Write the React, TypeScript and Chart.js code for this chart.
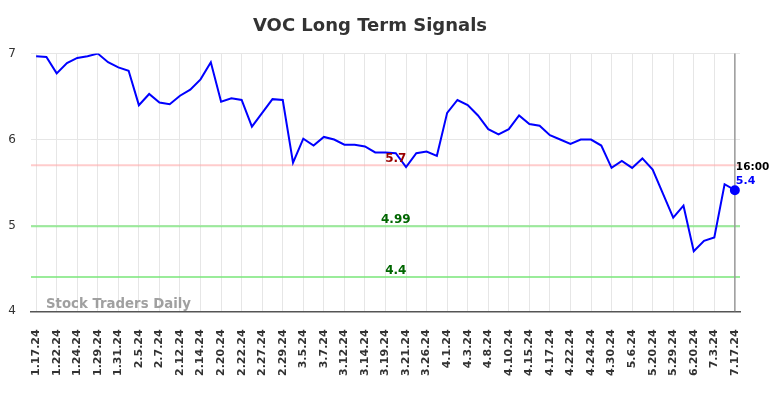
import React, { useEffect, useRef } from "react";
import { Chart, registerables } from "chart.js";

Chart.register(...registerables);

const dates: string[] = [
  "1.17.24", "1.18.24", "1.22.24", "1.23.24", "1.24.24", "1.26.24", "1.29.24", "1.30.24",
  "1.31.24", "2.2.24", "2.5.24", "2.6.24", "2.7.24", "2.9.24", "2.12.24", "2.13.24",
  "2.14.24", "2.16.24", "2.20.24", "2.21.24", "2.22.24", "2.26.24", "2.27.24", "2.28.24",
  "2.29.24", "3.1.24", "3.5.24", "3.6.24", "3.7.24", "3.11.24", "3.12.24", "3.13.24",
  "3.14.24", "3.18.24", "3.19.24", "3.20.24", "3.21.24", "3.25.24", "3.26.24", "3.28.24",
  "4.1.24", "4.2.24", "4.3.24", "4.5.24", "4.8.24", "4.9.24", "4.10.24", "4.12.24",
  "4.15.24", "4.16.24", "4.17.24", "4.19.24", "4.22.24", "4.23.24", "4.24.24", "4.26.24",
  "4.30.24", "5.2.24", "5.6.24", "5.13.24", "5.20.24", "5.24.24", "5.29.24", "6.7.24",
  "6.20.24", "6.27.24", "7.3.24", "7.10.24", "7.17.24",
];

const prices: number[] = [
  6.97, 6.96, 6.77, 6.89, 6.95, 6.97, 7.0, 6.9, 6.84, 6.8,
  6.4, 6.53, 6.43, 6.41, 6.51, 6.58, 6.7, 6.9, 6.44, 6.48,
  6.46, 6.15, 6.31, 6.47, 6.46, 5.73, 6.01, 5.93, 6.03, 6.0,
  5.94, 5.94, 5.92, 5.85, 5.85, 5.84, 5.68, 5.84, 5.86, 5.81,
  6.31, 6.46, 6.4, 6.28, 6.12, 6.06, 6.12, 6.28, 6.18, 6.16,
  6.05, 6.0, 5.95, 6.0, 6.0, 5.93, 5.67, 5.75, 5.67, 5.78,
  5.65, 5.37, 5.09, 5.23, 4.7, 4.82, 4.86, 5.48, 5.41,
];

const signalValues: number[] = [5.7, 4.99, 4.4];
const signalLabels: string[] = ["5.7", "4.99", "4.4"];
const signalLineColors: string[] = ["rgba(255,170,170,0.6)", "rgba(120,230,120,0.75)", "rgba(120,230,120,0.75)"];
const signalTextColors: string[] = ["#990000", "#006600", "#006600"];

const lastTimeLabel = "16:00";
const lastPriceLabel = "5.4";
const watermark = "Stock Traders Daily";
const FONT = "'DejaVu Sans', sans-serif";

const overlayPlugin = {
  id: "overlay",
  beforeDatasetsDraw(chart: any) {
    const { ctx, chartArea, scales } = chart;
    const y = scales.y;
    const x = scales.x;
    ctx.save();
    signalValues.forEach((v, i) => {
      const py = y.getPixelForValue(v);
      ctx.strokeStyle = signalLineColors[i];
      ctx.lineWidth = 2;
      ctx.beginPath();
      ctx.moveTo(chartArea.left, py);
      ctx.lineTo(chartArea.right, py);
      ctx.stroke();
    });
    const lx = x.getPixelForValue(prices.length - 1);
    ctx.strokeStyle = "#999999";
    ctx.lineWidth = 1.5;
    ctx.beginPath();
    ctx.moveTo(lx, chartArea.top);
    ctx.lineTo(lx, chartArea.bottom);
    ctx.stroke();
    ctx.font = `bold 13.3px ${FONT}`;
    ctx.fillStyle = "rgba(150,150,150,0.9)";
    ctx.textAlign = "left";
    ctx.textBaseline = "alphabetic";
    ctx.fillText(watermark, chartArea.left + 15, chartArea.bottom - 3);
    ctx.restore();
  },
  afterDatasetsDraw(chart: any) {
    const { ctx, scales } = chart;
    const y = scales.y;
    const x = scales.x;
    ctx.save();
    const cx = x.getPixelForValue(35);
    ctx.font = `bold 12px ${FONT}`;
    ctx.textAlign = "center";
    ctx.textBaseline = "alphabetic";
    signalValues.forEach((v, i) => {
      const py = y.getPixelForValue(v);
      ctx.fillStyle = signalTextColors[i];
      ctx.fillText(signalLabels[i], cx, py - 3);
    });
    const li = prices.length - 1;
    const lx = x.getPixelForValue(li);
    const ly = y.getPixelForValue(prices[li]);
    ctx.textAlign = "left";
    ctx.font = `bold 10.5px ${FONT}`;
    ctx.fillStyle = "#000000";
    ctx.fillText(lastTimeLabel, lx + 1, ly - 20);
    ctx.font = `bold 11px ${FONT}`;
    ctx.fillStyle = "#0000ff";
    ctx.fillText(lastPriceLabel, lx + 1, ly - 6);
    ctx.restore();
  },
};

export default function App() {
  const ref = useRef<HTMLCanvasElement | null>(null);
  useEffect(() => {
    document.body.style.margin = "0";
    const canvas = ref.current;
    if (!canvas) return;
    const chart = new Chart(canvas, {
      type: "line",
      data: {
        labels: dates,
        datasets: [
          {
            data: prices,
            borderColor: "#0000ff",
            backgroundColor: "#0000ff",
            borderWidth: 2,
            tension: 0,
            pointRadius: prices.map((_, i) => (i === prices.length - 1 ? 4 : 0)),
            pointHoverRadius: 4,
            fill: false,
          },
        ],
      },
      options: {
        responsive: false,
        animation: false,
        events: [],
        layout: { padding: { left: 0, right: 44, top: 0, bottom: 4 } },
        plugins: {
          legend: { display: false },
          tooltip: { enabled: false },
          title: {
            display: true,
            text: "VOC Long Term Signals",
            color: "#333333",
            font: { family: FONT, size: 18, weight: "bold" },
            padding: { top: 16, bottom: 16 },
          },
        },
        scales: {
          x: {
            offset: true,
            grid: {
              color: "#e6e6e6",
              lineWidth: 1,
              drawTicks: false,
            },
            border: { display: true, color: "#555555", width: 1.5 },
            ticks: {
              autoSkip: false,
              maxRotation: 90,
              minRotation: 90,
              padding: 18,
              color: "#333333",
              font: { family: FONT, size: 11, weight: "bold" },
              callback: (_v: any, i: number) => (i % 2 === 0 ? dates[i] : null),
            },
          },
          y: {
            min: 4,
            max: 7,
            afterFit: (scale: any) => {
              scale.width = 31;
            },
            grid: { color: "#e6e6e6", lineWidth: 1, drawTicks: false },
            border: { display: false },
            ticks: {
              stepSize: 1,
              padding: 15,
              color: "#333333",
              font: { family: FONT, size: 12 },
            },
          },
        },
      },
      plugins: [overlayPlugin],
    });
    return () => chart.destroy();
  }, []);
  return <canvas ref={ref} width={784} height={398} style={{ display: "block" }} />;
}
